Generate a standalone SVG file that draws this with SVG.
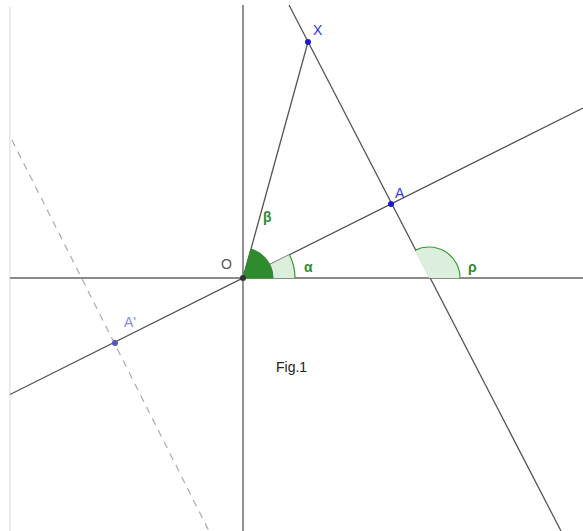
<svg xmlns="http://www.w3.org/2000/svg" width="583" height="531" viewBox="0 0 583 531">
<style>
.ln{stroke:#555;stroke-width:1.3;fill:none}
.ax{stroke:#8a8a8a;stroke-width:1.8;fill:none}
.lbl{font-family:"Liberation Sans",Arial,sans-serif;font-size:14px}
.grn{fill:#2e8b2e;font-weight:bold}
.blu{fill:#3333ee}
</style>
<rect width="583" height="531" fill="#fff"/>
<g id="connectors">
<line x1="10" y1="7" x2="10" y2="531" stroke="#ddd" stroke-width="1.2"/>
<line class="ax" x1="10" y1="278" x2="583" y2="278"/>
<line class="ln" x1="243" y1="5" x2="243" y2="531"/>
<line class="ln" x1="10" y1="394.5" x2="583" y2="108"/>
<line class="ln" x1="243" y1="278" x2="308" y2="42"/>
<line class="ln" x1="289" y1="5" x2="561" y2="531"/>
<line x1="12" y1="140" x2="209" y2="531" stroke="#aaa" stroke-width="1.2" stroke-dasharray="7,6"/>
</g>
<g id="angle-alpha">
<path d="M243,278 L295,278 A52,52 0 0 0 289.5,254.8 Z" fill="#dcefdc" stroke="none"/>
<path d="M295,278 A52,52 0 0 0 289.5,254.8" fill="none" stroke="#3a9a3a" stroke-width="1.2"/>
<text class="lbl grn" x="304" y="272">α</text>
</g>
<g id="angle-beta">
<path d="M243,278 L273,278 A30,30 0 0 0 251,249.1 Z" fill="#2e8b2e" stroke="#2e8b2e" stroke-width="1"/>
<text class="lbl grn" x="263" y="222">β</text>
</g>
<g id="angle-rho">
<path d="M429,278 L460,278 A31,31 0 0 0 414.9,250.4 Z" fill="#dcefdc" stroke="none"/>
<path d="M460,278 A31,31 0 0 0 414.9,250.4" fill="none" stroke="#3a9a3a" stroke-width="1.2"/>
<text class="lbl grn" x="468" y="272">ρ</text>
</g>
<g id="point-O">
<circle cx="243" cy="278" r="3" fill="#333"/>
<text class="lbl" x="221" y="269" fill="#555">O</text>
</g>
<g id="point-X">
<circle cx="308" cy="42" r="3" fill="#1a1acc"/>
<text class="lbl blu" x="313" y="35">X</text>
</g>
<g id="point-A">
<circle cx="391" cy="204" r="3" fill="#1a1acc"/>
<text class="lbl blu" x="395" y="198">A</text>
</g>
<g id="point-A-prime">
<circle cx="115" cy="343" r="3" fill="#5555bb"/>
<text class="lbl" x="124" y="327" fill="#8888ee">A'</text>
</g>
<g id="caption">
<text class="lbl" x="276" y="372" fill="#222">Fig.1</text>
</g>
</svg>
